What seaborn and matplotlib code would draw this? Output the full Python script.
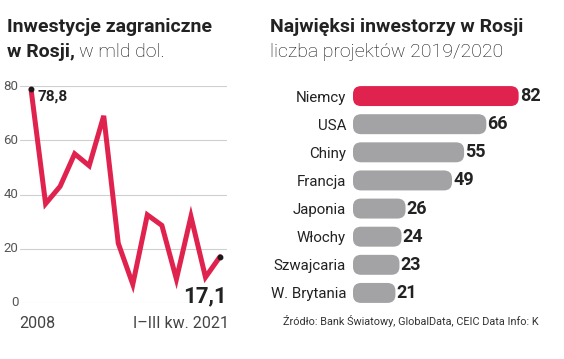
import numpy as np
import pandas as pd
import seaborn as sns
import matplotlib
matplotlib.use("Agg")
import matplotlib.pyplot as plt
from matplotlib.patches import FancyBboxPatch

# ---- data ----
years = list(range(2008, 2022))
fdi = [78.8, 36.6, 43.0, 55.0, 50.6, 69.0, 22.0, 6.9, 32.5, 28.6, 8.8, 31.9, 9.5, 17.1]
countries = ["Niemcy", "USA", "Chiny", "Francja", "Japonia", "Włochy", "Szwajcaria", "W. Brytania"]
projects = [82, 66, 55, 49, 26, 24, 23, 21]
yticks = [0, 20, 40, 60, 80]

RED = "#e0234e"
GRAY = "#a3a3a5"
DARK = "#222222"

sns.set_theme(style="white")
plt.rcParams["font.family"] = ["Roboto", "DejaVu Sans"]

W, H = 564, 359
fig = plt.figure(figsize=(W / 100, H / 100), dpi=100)

def fx(px):
    return px / W

def fy(py):
    return 1 - py / H

# ---- left line chart ----
axl = fig.add_axes([fx(20), fy(303), fx(227) - fx(20), fy(86) - fy(303)])
df = pd.DataFrame({"i": np.arange(len(years)), "v": fdi})
for t in yticks:
    axl.axhline(t, color="#cfcfcf", lw=0.8, zorder=0)
sns.lineplot(data=df, x="i", y="v", ax=axl, color=RED, lw=3.6, zorder=3,
             solid_joinstyle="miter")
axl.plot([df.i.iloc[0], df.i.iloc[-1]], [df.v.iloc[0], df.v.iloc[-1]], "o",
         color="#1a1a1a", ms=3.2, zorder=4)
axl.set_xlim(-0.76, 13.48)
axl.set_ylim(0, 80)
axl.set_xticks([])
axl.set_yticks([])
axl.set_xlabel("")
axl.set_ylabel("")
for s in axl.spines.values():
    s.set_visible(False)
for t in yticks:
    axl.text(-0.76 - 0.1, t, str(t), ha="right", va="center", fontsize=9.5,
             color="#555555", transform=axl.transData, clip_on=False)
axl.text(0.45, 78.8, "78,8", ha="left", va="top", fontsize=11,
         fontweight="bold", color=DARK)
axl.text(13.5, -1.5, "17,1", ha="right", va="bottom", fontsize=16,
         fontweight="bold", color=DARK, clip_on=False)

fig.text(fx(19), fy(323), "2008", ha="left", va="center", fontsize=11.5,
         color="#444444")
fig.text(fx(229), fy(323), "I–III kw. 2021", ha="right", va="center",
         fontsize=11.5, color="#444444")

# titles
fig.text(fx(7), fy(27), "Inwestycje zagraniczne", ha="left", va="center",
         fontsize=14, fontweight="bold", color=DARK)
t1 = fig.text(fx(7), fy(52), "w Rosji,", ha="left", va="center",
              fontsize=14, fontweight="bold", color=DARK)
fig.canvas.draw()
bb = t1.get_window_extent()
fig.text(bb.x1 / W + 0.007, fy(52), "w mld dol.", ha="left", va="center",
         fontsize=14, fontweight="light", color="#111111")

fig.text(fx(270), fy(27), "Najwięksi inwestorzy w Rosji", ha="left",
         va="center", fontsize=14, fontweight="bold", color=DARK)
fig.text(fx(270), fy(52), "liczba projektów 2019/2020", ha="left",
         va="center", fontsize=14, fontweight="light", color="#111111")

# ---- right bar chart ----
axr = fig.add_axes([fx(353), fy(307), fx(555) - fx(353), fy(82) - fy(307)])
dfb = pd.DataFrame({"country": countries, "n": projects})
sns.barplot(data=dfb, x="n", y="country", ax=axr, orient="h", width=0.71,
            palette=[RED] + [GRAY] * (len(countries) - 1), hue="country",
            legend=False, saturation=1)
axr.set_xlim(0, 100)
axr.set_ylim(len(countries) - 0.5, -0.5)
# replace rectangles by rounded bars
for p in list(axr.patches):
    x0, y0 = p.get_x(), p.get_y()
    w, h = p.get_width(), p.get_height()
    fc = p.get_facecolor()
    p.set_visible(False)
    rb = FancyBboxPatch((x0, y0), w, h,
                        boxstyle="round,pad=0,rounding_size=4",
                        mutation_aspect=0.07, fc=fc, ec="none", zorder=3)
    axr.add_patch(rb)
for i, v in enumerate(projects):
    axr.text(v + 0.6, i, str(v), ha="left", va="center", fontsize=13,
             fontweight="bold", color=DARK)
axr.set_xticks([])
axr.set_xlabel("")
axr.set_ylabel("")
axr.tick_params(axis="y", length=0, pad=5, labelsize=10.8, labelcolor="#222222")
for s in axr.spines.values():
    s.set_visible(False)

fig.text(fx(283), fy(321), "Źródło: Bank Światowy, GlobalData, CEIC Data Info: K",
         ha="left", va="center", fontsize=7.8, color="#333333")

fig.savefig("out.png", dpi=100, facecolor="white")
